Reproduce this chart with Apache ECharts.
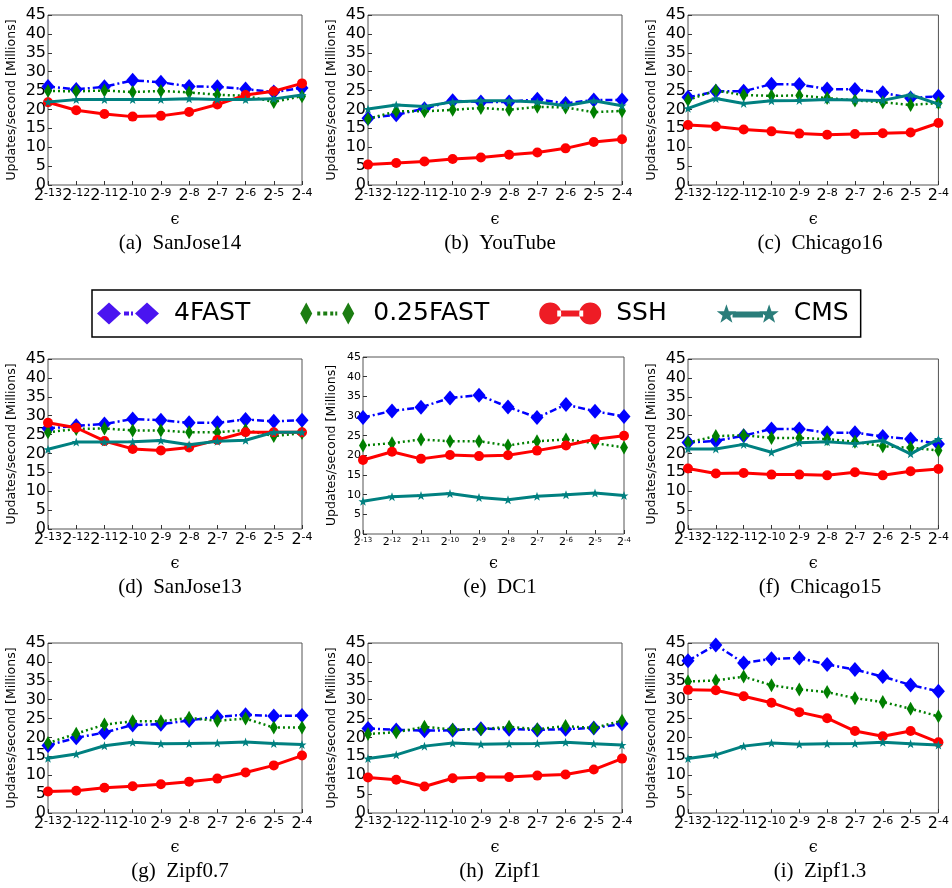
<!DOCTYPE html>
<html>
<head>
<meta charset="utf-8">
<script src="https://cdn.jsdelivr.net/npm/echarts@6/dist/echarts.min.js"></script>
<style>
  html, body { margin: 0; padding: 0; background: #fff; }
  #main { width: 952px; height: 888px; }
</style>
</head>
<body>
<div id="main"></div>
<script>
// epsilon exponents on the x axis (2^-13 .. 2^-4)
var epsExp = ['-13', '-12', '-11', '-10', '-9', '-8', '-7', '-6', '-5', '-4'];
var yTicks = [0, 5, 10, 15, 20, 25, 30, 35, 40, 45];
var captions = ['(a)  SanJose14', '(b)  YouTube', '(c)  Chicago16',
                '(d)  SanJose13', '(e)  DC1', '(f)  Chicago15',
                '(g)  Zipf0.7', '(h)  Zipf1', '(i)  Zipf1.3'];
var methods = ['4FAST', '0.25FAST', 'SSH', 'CMS'];

// one row per panel (a..i), millions of updates/second
var fast4 = [
  [26.1, 25.3, 26.0, 27.7, 27.2, 26.1, 26.0, 25.4, 24.6, 25.7],
  [17.7, 18.6, 20.2, 22.3, 22.0, 22.0, 22.7, 21.6, 22.5, 22.5],
  [23.2, 24.8, 24.8, 26.7, 26.6, 25.4, 25.3, 24.4, 23.0, 23.5],
  [26.6, 27.3, 27.8, 29.1, 28.8, 28.1, 28.1, 29.0, 28.5, 28.8],
  [29.6, 31.3, 32.2, 34.6, 35.3, 32.3, 29.6, 32.9, 31.2, 29.9],
  [22.9, 23.3, 24.7, 26.5, 26.5, 25.5, 25.5, 24.5, 23.8, 22.5],
  [17.9, 19.9, 21.3, 23.3, 23.5, 24.5, 25.5, 26.0, 25.7, 25.8],
  [22.4, 22.0, 21.8, 21.9, 22.3, 22.2, 22.0, 22.2, 22.5, 23.6],
  [40.3, 44.5, 39.7, 40.8, 41.0, 39.3, 38.0, 36.1, 33.9, 32.2]
];
var fast025 = [
  [24.9, 24.8, 25.0, 24.6, 24.9, 24.5, 23.9, 23.6, 22.0, 23.5],
  [17.5, 19.5, 19.5, 19.9, 20.4, 19.9, 20.7, 20.5, 19.3, 19.6],
  [22.5, 25.0, 23.8, 23.6, 23.7, 23.0, 22.4, 21.9, 21.2, 21.7],
  [25.6, 26.5, 26.6, 26.1, 26.1, 25.6, 25.6, 26.2, 24.6, 25.4],
  [22.5, 23.1, 24.0, 23.6, 23.6, 22.5, 23.6, 24.0, 23.1, 22.0],
  [22.9, 24.6, 24.8, 24.1, 24.1, 23.8, 23.1, 21.9, 21.5, 20.8],
  [18.5, 21.0, 23.4, 24.3, 24.3, 25.2, 24.4, 25.0, 22.6, 22.6],
  [20.9, 21.4, 22.8, 22.1, 22.2, 22.8, 22.2, 23.0, 22.5, 24.4],
  [34.8, 35.1, 36.1, 33.8, 32.7, 32.0, 30.4, 29.4, 27.6, 25.6]
];
var ssh = [
  [21.9, 19.8, 18.8, 18.1, 18.3, 19.3, 21.3, 23.8, 24.8, 26.9],
  [5.4, 5.8, 6.2, 6.9, 7.3, 8.0, 8.6, 9.7, 11.4, 12.1],
  [15.9, 15.5, 14.7, 14.2, 13.6, 13.3, 13.5, 13.7, 13.9, 16.4],
  [28.1, 26.8, 23.3, 21.2, 20.8, 21.6, 23.6, 25.6, 25.6, 25.6],
  [18.8, 20.9, 19.1, 20.1, 19.8, 20.0, 21.2, 22.5, 24.1, 25.0],
  [16.0, 14.7, 14.8, 14.4, 14.4, 14.2, 15.0, 14.2, 15.3, 15.9],
  [5.7, 5.9, 6.7, 7.1, 7.6, 8.3, 9.1, 10.7, 12.6, 15.2],
  [9.4, 8.8, 7.0, 9.2, 9.5, 9.5, 9.9, 10.2, 11.5, 14.4],
  [32.6, 32.5, 30.9, 29.2, 26.7, 25.1, 21.7, 20.3, 21.7, 18.7]
];
var cms = [
  [22.0, 22.6, 22.6, 22.6, 22.6, 22.8, 22.6, 22.6, 22.8, 23.8],
  [20.1, 21.2, 20.8, 22.0, 22.3, 22.3, 22.0, 21.0, 22.3, 21.0],
  [20.3, 22.9, 21.6, 22.3, 22.4, 22.6, 22.5, 22.4, 23.9, 21.4],
  [21.1, 23.0, 23.0, 23.1, 23.4, 22.3, 23.2, 23.5, 25.6, 25.6],
  [8.3, 9.5, 9.8, 10.3, 9.3, 8.7, 9.6, 10.0, 10.4, 9.8],
  [21.2, 21.2, 22.4, 20.3, 22.8, 23.1, 22.6, 23.4, 19.9, 23.8],
  [14.5, 15.6, 17.8, 18.7, 18.3, 18.4, 18.5, 18.8, 18.4, 18.1],
  [14.4, 15.4, 17.7, 18.5, 18.2, 18.3, 18.4, 18.7, 18.3, 18.0],
  [14.4, 15.4, 17.7, 18.5, 18.2, 18.3, 18.4, 18.7, 18.3, 18.0]
];

var allData = [fast4, fast025, ssh, cms];

var starPath = 'path://M10 0L12.35 6.9L19.5 6.9L13.8 11.2L15.9 18.1L10 14L4.1 18.1L6.2 11.2L0.5 6.9L7.65 6.9Z';

var styles = [
  {color: '#0000ff', lineType: [7, 3, 2, 3], width: 2.5, symbol: 'diamond', size: [13, 15]},
  {color: '#007f00', lineType: [2, 3], width: 2.5, symbol: 'diamond', size: [8, 14]},
  {color: '#ff0000', lineType: 'solid', width: 3, symbol: 'circle', size: 10},
  {color: '#008080', lineType: 'solid', width: 3, symbol: starPath, size: 9}
];

var legendIcons = [
  'path://M0 11L12 0L24 11L12 22ZM38 11L50 0L62 11L50 22ZM27 9h5v4h-5ZM34 9h2v4h-2Z',
  'path://M4 11L10 0L16 11L10 22ZM46 11L52 0L58 11L52 22ZM21 9h3v4h-3ZM27 9h4v4h-4ZM34 9h3v4h-3ZM39 9h2v4h-2Z',
  'path://M0 11A11 11 0 1 0 22 11A11 11 0 1 0 0 11ZM40 11A11 11 0 1 0 62 11A11 11 0 1 0 40 11ZM18 8h26v6h-26Z',
  'path://M10 1L12.35 7.9L19.5 7.9L13.8 12.2L15.9 19.1L10 15L4.1 19.1L6.2 12.2L0.5 7.9L7.65 7.9ZM52 1L54.35 7.9L61.5 7.9L55.8 12.2L57.9 19.1L52 15L46.1 19.1L48.2 12.2L42.5 7.9L49.65 7.9ZM16 8h30v6h-30Z'
];
var legendColors = ['#4a14f0', '#1c7d12', '#ee1c25', '#2a7d7a'];

// layout of the 3x3 panels
var colLeft = [48, 368, 688];
var rowTop = [15, 359, 643];
var plotW = 254, plotH = 170;

var grids = [], xAxes = [], yAxes = [], series = [], titles = [];

for (var p = 0; p < 9; p++) {
  var r = Math.floor(p / 3), c = p % 3;
  var small = (p === 4);
  var g = small ? {left: 363, top: 357, width: 261, height: 177}
                : {left: colLeft[c], top: rowTop[r], width: plotW, height: plotH};
  grids.push({left: g.left, top: g.top, width: g.width, height: g.height,
    show: true, borderColor: '#555', borderWidth: 1, backgroundColor: '#fff'});

  xAxes.push({
    type: 'category', gridIndex: p, data: epsExp, boundaryGap: false,
    name: '\u03f5', nameLocation: 'middle', nameGap: small ? 22 : 27,
    nameTextStyle: {fontFamily: 'DejaVu Serif', fontSize: 16, color: '#000'},
    axisLine: {show: false},
    axisTick: {show: true, inside: true, length: 4, alignWithLabel: true, lineStyle: {color: '#333'}},
    splitLine: {show: false},
    axisLabel: {
      interval: 0, margin: 3, color: '#000',
      formatter: function (v) { return '{b|2}{s|' + v + '}'; },
      rich: {
        b: {fontFamily: 'DejaVu Sans', fontSize: small ? 11 : 16, color: '#000'},
        s: {fontFamily: 'DejaVu Sans', fontSize: small ? 7 : 11, color: '#000', verticalAlign: 'top'}
      }
    }
  });

  yAxes.push({
    type: 'value', gridIndex: p, min: 0, max: 45, interval: 5,
    name: 'Updates/second [Millions]', nameLocation: 'middle', nameGap: small ? 25 : 30,
    nameTextStyle: {fontFamily: 'DejaVu Sans', fontSize: 12.5, color: '#000'},
    axisLine: {show: false},
    axisTick: {show: true, inside: true, length: 4, lineStyle: {color: '#333'}},
    splitLine: {show: false},
    axisLabel: {
      margin: 2, color: '#000', fontFamily: 'DejaVu Sans', fontSize: small ? 11 : 16,
      formatter: function (v) { return yTicks.indexOf(v) >= 0 ? String(v) : ''; }
    }
  });

  for (var m = 0; m < 4; m++) {
    var s = styles[m];
    series.push({
      type: 'line', name: methods[m], xAxisIndex: p, yAxisIndex: p,
      data: allData[m][p],
      symbol: s.symbol, symbolSize: s.size, showSymbol: true,
      itemStyle: {color: s.color},
      lineStyle: {color: s.color, width: s.width, type: s.lineType},
      z: 2 + m
    });
  }

  // captions sit under the normal panel box, even for the taller (e)
  titles.push({
    text: captions[p],
    left: colLeft[c] + plotW / 2, top: rowTop[r] + plotH + 43,
    textAlign: 'center',
    textStyle: {fontFamily: 'Liberation Serif', fontSize: 21, fontWeight: 'normal', color: '#000'}
  });
}

var legendData = [];
for (var i = 0; i < 4; i++) {
  legendData.push({name: methods[i], icon: legendIcons[i], itemStyle: {color: legendColors[i]}});
}

var myChart = echarts.init(document.getElementById('main'));
var option = {
  animation: false,
  backgroundColor: '#fff',
  title: titles,
  legend: {
    data: legendData,
    left: 92, top: 290,
    orient: 'horizontal',
    itemWidth: 62, itemHeight: 22, itemGap: 50,
    padding: [11, 12, 11, 5],
    borderColor: '#000', borderWidth: 1.5,
    selectedMode: false,
    textStyle: {fontFamily: 'DejaVu Sans', fontSize: 25, color: '#000', padding: [0, 0, 0, 10]}
  },
  grid: grids,
  xAxis: xAxes,
  yAxis: yAxes,
  series: series
};
myChart.setOption(option);
</script>
</body>
</html>
